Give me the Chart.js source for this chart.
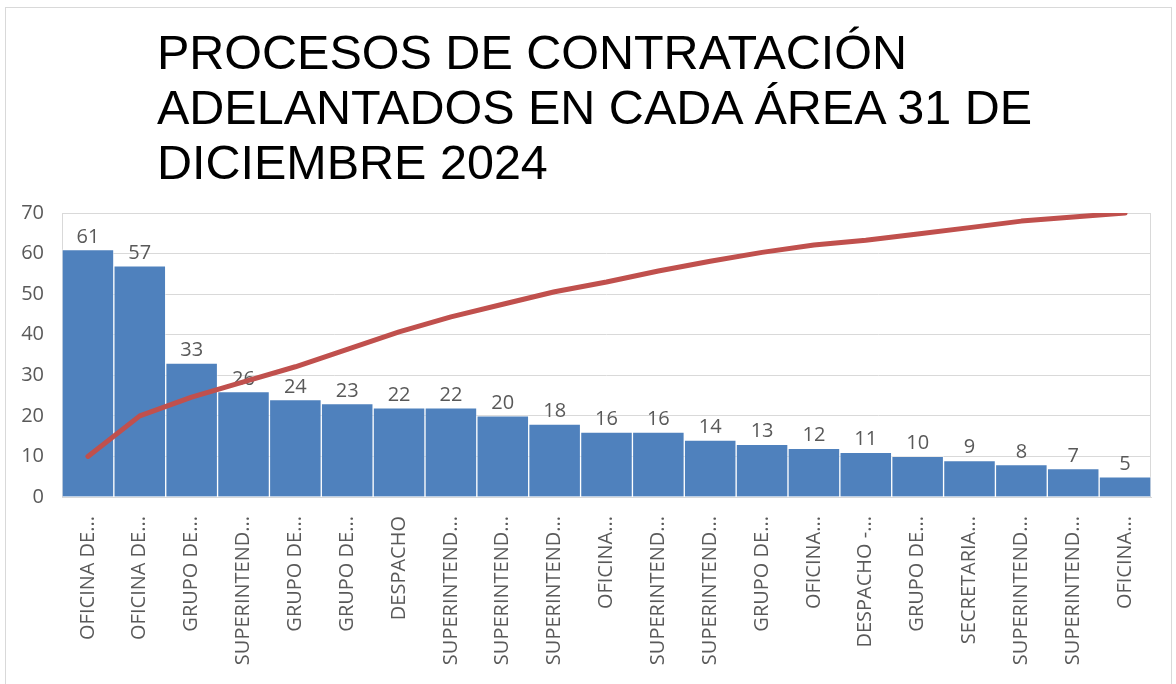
<!DOCTYPE html>
<html>
<head>
<meta charset="utf-8">
<script src="https://cdn.jsdelivr.net/npm/chart.js@4"></script>
<style>
	body { margin: 0; background: #ffffff; }
	#wrap { position: relative; width: 1176px; height: 684px; }
	#frame { position: absolute; left: 5px; top: 7px; width: 1165px; height: 690px; border: 1px solid #d9d9d9; }
	#title { position: absolute; left: 157px; top: 25px; font-family: "Liberation Sans", Arial, sans-serif; font-size: 48.5px; line-height: 55px; color: #000000; }
	canvas { position: absolute; left: 0; top: 0; }
</style>
</head>
<body>
<div id="wrap">
	<div id="frame"></div>
	<canvas id="grafico" width="1176" height="684"></canvas>
	<div id="title">PROCESOS DE CONTRATACIÓN<br>ADELANTADOS EN CADA ÁREA 31 DE<br>DICIEMBRE 2024</div>
</div>
<script>
var areas = ["OFICINA DE...", "OFICINA DE...", "GRUPO DE...", "SUPERINTEND...", "GRUPO DE...", "GRUPO DE...",
	"DESPACHO", "SUPERINTEND...", "SUPERINTEND...", "SUPERINTEND...", "OFICINA...", "SUPERINTEND...",
	"SUPERINTEND...", "GRUPO DE...", "OFICINA...", "DESPACHO -...", "GRUPO DE...", "SECRETARIA...",
	"SUPERINTEND...", "SUPERINTEND...", "OFICINA..."]
var procesos = [61, 57, 33, 26, 24, 23, 22, 22, 20, 18, 16, 16, 14, 13, 12, 11, 10, 9, 8, 7, 5]
var tendencia = [10, 20, 24.6, 28.4, 32.1, 36.4, 40.7, 44.4, 47.5, 50.6, 53, 55.7, 58.1, 60.3, 62.1, 63.3, 64.8, 66.4, 68, 69, 70]
var yTicks = [0, 10, 20, 30, 40, 50, 60, 70]

var gris = '#595959'

// numbers above the bars, drawn before the line so the line passes over them
var etiquetas = {
	id: 'etiquetas',
	afterDatasetDraw: function(chart, args)
	{
		if(args.index != 0) return
		var ctx = chart.ctx
		ctx.save()
		ctx.font = '20px "Open Sans"'
		ctx.fillStyle = gris
		ctx.textAlign = 'center'
		ctx.textBaseline = 'alphabetic'
		var meta = chart.getDatasetMeta(0)
		for(i = 0; i < meta.data.length; i++)
			ctx.fillText(procesos[i], meta.data[i].x, meta.data[i].y - 7)
		ctx.restore()
	}
}

// light frame round the plot area
var marco = {
	id: 'marco',
	beforeDatasetsDraw: function(chart)
	{
		var a = chart.chartArea
		var ctx = chart.ctx
		ctx.save()
		ctx.strokeStyle = '#d9d9d9'
		ctx.lineWidth = 1
		ctx.strokeRect(a.left + 0.5, a.top + 0.5, a.right - a.left - 1, a.bottom - a.top)
		ctx.restore()
	}
}

var ctx0 = document.getElementById('grafico')
var myChart = new Chart(ctx0, {
	type: 'bar',
	data: {
		labels: areas,
		datasets: [{
			type: 'bar',
			data: procesos,
			backgroundColor: '#4f81bd',
			borderColor: 'rgba(255, 255, 255, 0.45)',
			borderWidth: 1,
			barPercentage: 1,
			categoryPercentage: 1,
			order: 2
		},
		{
			type: 'line',
			data: tendencia,
			borderColor: '#c0504d',
			borderWidth: 5,
			borderCapStyle: 'round',
			borderJoinStyle: 'round',
			pointRadius: 0,
			tension: 0,
			order: 1
		}]
	},
	options: {
		responsive: false,
		animation: false,
		layout:
		{
			padding: { top: 213, right: 25, left: 0, bottom: 0 }
		},
		plugins:
		{
			legend: { display: false },
			title: { display: false },
			tooltip: { enabled: false }
		},
		scales: {
			x:
			{
				grid: { display: false, drawTicks: false },
				border: { display: true, color: '#d9d9d9' },
				ticks:
				{
					minRotation: 90,
					maxRotation: 90,
					autoSkip: false,
					padding: 19,
					color: gris,
					font: { family: 'Open Sans', size: 20 }
				},
				afterFit: function(s) { s.height = 684 - 497 }
			},
			y:
			{
				min: 0,
				max: 70,
				afterBuildTicks: function(s) { s.ticks = yTicks.map(function(v) { return { value: v } }) },
				grid: { color: '#d9d9d9', drawTicks: false },
				border: { display: false },
				ticks:
				{
					padding: 18,
					color: gris,
					font: { family: 'Open Sans', size: 20 }
				},
				afterFit: function(s) { s.width = 62 }
			}
		}
	},
	plugins: [etiquetas, marco]
})
</script>
</body>
</html>
